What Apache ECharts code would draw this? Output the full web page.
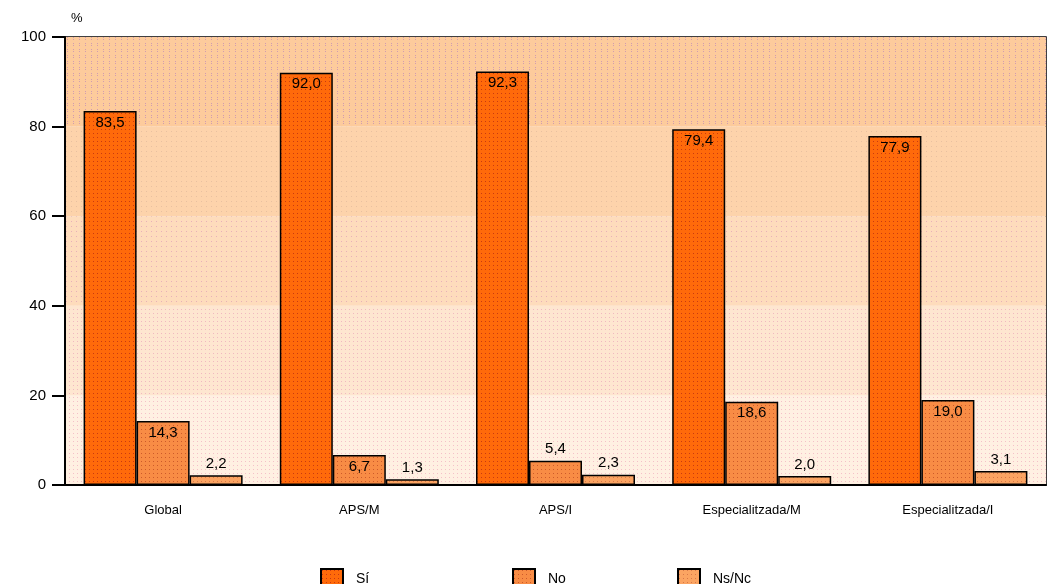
<!DOCTYPE html>
<html>
<head>
<meta charset="utf-8">
<script src="https://cdn.jsdelivr.net/npm/echarts@6/dist/echarts.min.js"></script>
<style>
  html, body { margin: 0; padding: 0; background: #fff; }
  #chart { width: 1048px; height: 584px; }
</style>
</head>
<body>
<div id="chart"></div>
<script>
// Categories and values (percentages)
const categories = ['Global', 'APS/M', 'APS/I', 'Especialitzada/M', 'Especialitzada/I'];
const seriesNames = ['Sí', 'No', 'Ns/Nc'];
const valuesSi = [83.5, 92.0, 92.3, 79.4, 77.9];
const valuesNo = [14.3, 6.7, 5.4, 18.6, 19.0];
const valuesNsNc = [2.2, 1.3, 2.3, 2.0, 3.1];
const yTicks = [0, 20, 40, 60, 80, 100];

// Small dotted fill patterns
function dotPattern(base, dot, step, pairs) {
  const c = document.createElement('canvas');
  c.width = step; c.height = step;
  const g = c.getContext('2d');
  g.fillStyle = base;
  g.fillRect(0, 0, step, step);
  g.fillStyle = dot;
  g.fillRect(1, 1, 1, 1);
  if (pairs) g.fillRect(1, 3, 1, 1);
  return { image: c, repeat: 'repeat' };
}

const barFills = [
  dotPattern('#ff6a0a', '#c83a10', 4, false),
  dotPattern('#f88c45', '#cc5a2a', 4, false),
  dotPattern('#fba462', '#d87848', 4, false)
];

// Background bands from bottom to top
const bandFills = [
  dotPattern('#fff0e2', '#f4c0c8', 4, false),
  dotPattern('#fee6d0', '#f0b8c0', 4, false),
  dotPattern('#fedcbc', '#e8b0b8', 5, false),
  dotPattern('#fdd3ab', '#e8c0a0', 5, false),
  dotPattern('#fdcb9c', '#d09cb0', 6, true)
];
const bandData = [];
for (let i = 0; i < yTicks.length - 1; i++) {
  bandData.push([
    { yAxis: yTicks[i], itemStyle: { color: bandFills[i] } },
    { yAxis: yTicks[i + 1] }
  ]);
}

const FONT = 'Liberation Sans, Arial, sans-serif';
const fmt = v => v.toFixed(1).replace('.', ',');
const labelFont = { fontFamily: FONT, fontSize: 15, color: '#000' };

function makeSeries(name, values, idx) {
  const s = {
    name: name,
    type: 'bar',
    barWidth: 53,
    barGap: '0%',
    data: values.map(v => ({
      value: v,
      label: { position: v > 6 ? 'insideTop' : 'top' }
    })),
    itemStyle: { color: barFills[idx], borderColor: '#000', borderWidth: 1.5 },
    label: Object.assign({
      show: true,
      distance: 4,
      formatter: p => fmt(p.value)
    }, labelFont),
    z: 3
  };
  if (idx === 0) {
    s.markArea = { silent: true, z: 1, itemStyle: { borderWidth: 0 }, data: bandData };
  }
  return s;
}

function legendAt(left, name) {
  return {
    left: left,
    top: 563,
    icon: 'rect',
    itemWidth: 22,
    itemHeight: 21,
    data: [name],
    selectedMode: false,
    itemGap: 0,
    textStyle: { fontFamily: FONT, fontSize: 14, color: '#000', padding: [0, 0, 0, 8] }
  };
}

const chart = echarts.init(document.getElementById('chart'), null, { renderer: 'canvas' });
chart.setOption({
  backgroundColor: '#fff',
  animation: false,
  grid: {
    left: 65, right: 2, top: 37, bottom: 99,
    show: true, backgroundColor: 'transparent', borderColor: '#000', borderWidth: 1.5
  },
  legend: [legendAt(315, 'Sí'), legendAt(507, 'No'), legendAt(672, 'Ns/Nc')],
  xAxis: {
    type: 'category',
    data: categories,
    axisLine: { lineStyle: { color: '#000', width: 2 } },
    axisTick: { show: false },
    axisLabel: { margin: 19, fontFamily: FONT, fontSize: 13, color: '#000' },
    z: 5
  },
  yAxis: {
    type: 'value',
    min: 0, max: 100, interval: 20,
    name: '%',
    nameGap: 12,
    nameTextStyle: { fontFamily: FONT, fontSize: 13, color: '#000', align: 'left', padding: [0, 0, 0, 6] },
    axisLine: { show: true, lineStyle: { color: '#000', width: 2 } },
    axisTick: { show: true, length: 13, lineStyle: { color: '#000', width: 2 } },
    axisLabel: {
      margin: 19,
      fontFamily: FONT, fontSize: 15, color: '#000',
      formatter: v => yTicks.includes(v) ? String(v) : ''
    },
    splitLine: { show: false },
    z: 5
  },
  series: [
    makeSeries(seriesNames[0], valuesSi, 0),
    makeSeries(seriesNames[1], valuesNo, 1),
    makeSeries(seriesNames[2], valuesNsNc, 2)
  ]
});
</script>
</body>
</html>
